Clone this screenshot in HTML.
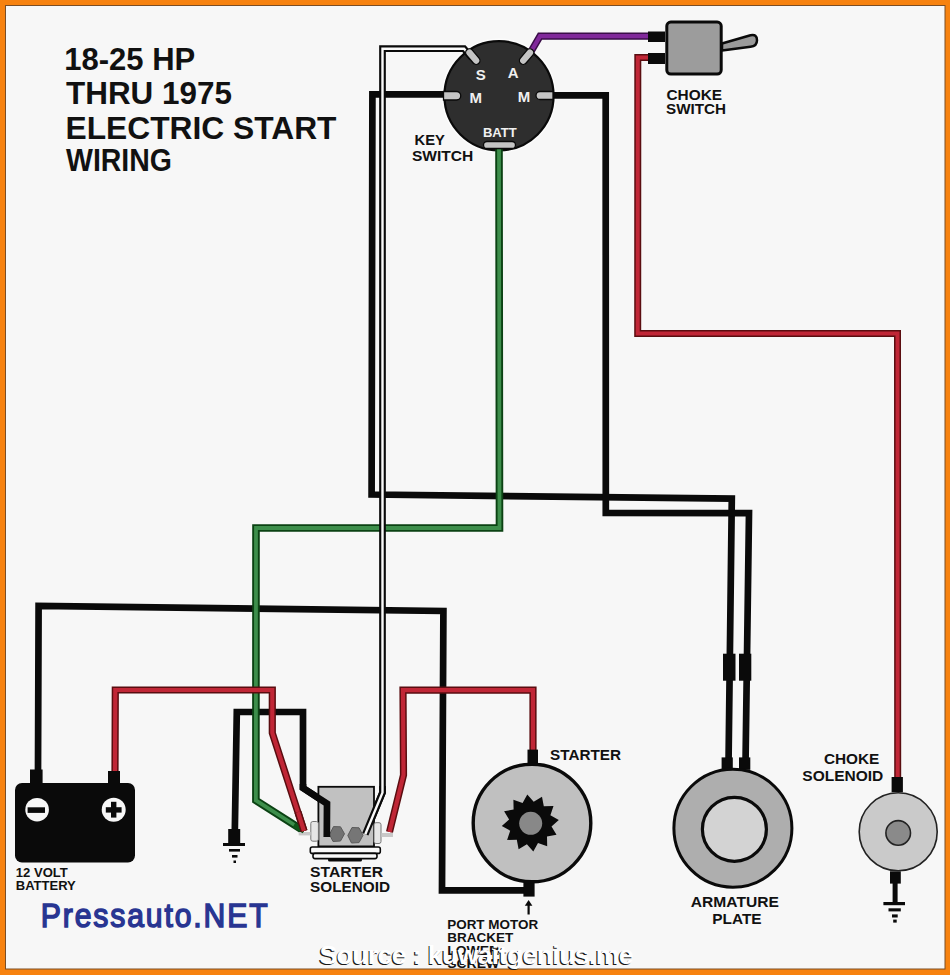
<!DOCTYPE html>
<html><head><meta charset="utf-8">
<style>
html,body{margin:0;padding:0;width:950px;height:975px;overflow:hidden;background:#f7f7f7}
svg{display:block}
text{font-family:"Liberation Sans",sans-serif;font-weight:bold}
</style></head><body>
<svg width="950" height="975" viewBox="0 0 950 975">
<rect x="0" y="0" width="950" height="975" fill="#f7820f"/>
<rect x="5.5" y="5.5" width="939.5" height="963.5" fill="#f7f7f7" stroke="#7a4e26" stroke-width="1"/>

<!-- Title -->
<g fill="#111" font-size="30.5">
<text x="64.3" y="70.4" textLength="131" lengthAdjust="spacingAndGlyphs">18-25 HP</text>
<text x="66" y="104.3" textLength="166" lengthAdjust="spacingAndGlyphs">THRU 1975</text>
<text x="65.5" y="139.2" textLength="271" lengthAdjust="spacingAndGlyphs">ELECTRIC START</text>
<text x="66" y="170.8" textLength="106" lengthAdjust="spacingAndGlyphs">WIRING</text>
</g>

<!-- Key switch body -->
<circle cx="499" cy="95.8" r="56.4" fill="none" stroke="#fcfcfc" stroke-width="1.6"/>
<circle cx="499" cy="95.8" r="54.6" fill="#2e2e2e" stroke="#0a0a0a" stroke-width="2.2"/>

<!-- wires: black -->
<g fill="none" stroke="#0a0a0a" stroke-width="6.7" stroke-linejoin="miter" stroke-linecap="butt">
<polyline points="38,772 38.6,606 443.4,611 442,890.3 524,890.3"/>
<polyline points="234.8,832 236.8,712 303,712 303,788 327,803.6 326.8,836"/>
<polyline points="450,94.4 372.4,94.4 371.6,494.5 731.8,498.6 728.6,758"/>
<polyline points="547,95.3 605.7,95.3 605.8,513 749,513.2 745.6,758"/>
</g>
<!-- green -->
<g fill="none" stroke-linejoin="miter">
<polyline points="499,146 499.5,528 256,528 255.9,800.4 304,831" stroke="#0b4213" stroke-width="7.6"/>
<polyline points="499,146 499.5,528 256,528 255.9,800.4 304,831" stroke="#3d8e4b" stroke-width="3.8"/>
</g>
<!-- red wires -->
<g fill="none" stroke-linejoin="miter">
<polyline points="115,772 115.3,690 272.3,690 272.3,733 304,831" stroke="#5a0d10" stroke-width="7.2"/>
<polyline points="115,772 115.3,690 272.3,690 272.3,733 304,831" stroke="#c02636" stroke-width="4.2"/>
<polyline points="389.5,832 403.5,775 403,690.2 533,690.2 533,752" stroke="#5a0d10" stroke-width="7.2"/>
<polyline points="389.5,832 403.5,775 403,690.2 533,690.2 533,752" stroke="#c02636" stroke-width="4.2"/>
<polyline points="649,57.5 637.8,57.5 637.7,333.4 897.5,333.4 897.7,778" stroke="#5a0d10" stroke-width="7"/>
<polyline points="649,57.5 637.8,57.5 637.7,333.4 897.5,333.4 897.7,778" stroke="#c02636" stroke-width="4"/>
</g>
<!-- purple -->
<g fill="none" stroke-linejoin="miter">
<polyline points="529,55 540,36.2 649,36.2" stroke="#3a0d48" stroke-width="7.2"/>
<polyline points="529,55 540,36.2 649,36.2" stroke="#80289a" stroke-width="4.2"/>
</g>
<!-- white wire -->
<g fill="none" stroke-linejoin="miter">
<polyline points="472,58 464,48.7 382.5,48.7 382.5,792.6 365.3,834.3" stroke="#0a0a0a" stroke-width="6.7"/>
<polyline points="472,58 464,48.7 382.5,48.7 382.5,792.6 365.3,834.3" stroke="#fafafa" stroke-width="2.4"/>
</g>

<!-- Key switch terminals & labels -->
<g fill="#c4c4c4" stroke="#0a0a0a" stroke-width="1.3">
<path d="M443.5,91.5 L456.5,91.5 A4.25,4.25 0 0 1 456.5,100 L443.5,100 Z"/>
<path d="M553,91.5 L540,91.5 A4,4 0 0 0 540,99.5 L553,99.5 Z"/>
<rect x="483.5" y="141.5" width="32" height="7" rx="3.5"/>
<rect x="-9" y="-3.8" width="18" height="7.6" rx="3.8" transform="translate(472.8,56.6) rotate(50)"/>
<rect x="-9" y="-3.8" width="18" height="7.6" rx="3.8" transform="translate(526.6,56.6) rotate(-50)"/>
</g>
<g fill="#f0f0f0" font-size="15">
<text x="475.8" y="79.5">S</text>
<text x="507.8" y="78.1">A</text>
<text x="469.5" y="102.5">M</text>
<text x="517.7" y="101.7">M</text>
<text x="482.9" y="136.7" textLength="33.8" lengthAdjust="spacingAndGlyphs" font-size="13">BATT</text>
</g>
<g fill="#111" font-size="15">
<text x="414.5" y="145.3" textLength="30.3" lengthAdjust="spacingAndGlyphs">KEY</text>
<text x="412" y="161" textLength="61.3" lengthAdjust="spacingAndGlyphs">SWITCH</text>
</g>

<!-- Choke switch -->
<rect x="648" y="31.5" width="17" height="10.5" fill="#0a0a0a"/>
<rect x="648" y="53" width="17" height="11" fill="#0a0a0a"/>
<path d="M722,43.5 L750.5,35.3 Q757,33.8 757,40.3 Q757,46.3 750.5,46.8 L722,50.5 Z" fill="#9a9a9a" stroke="#0a0a0a" stroke-width="2.5" stroke-linejoin="round"/>
<rect x="666.8" y="22.1" width="54.4" height="52" rx="4" fill="#9c9c9c" stroke="#0a0a0a" stroke-width="3"/>
<g fill="#111" font-size="15">
<text x="666.5" y="100" textLength="55.6" lengthAdjust="spacingAndGlyphs">CHOKE</text>
<text x="666" y="114" textLength="60" lengthAdjust="spacingAndGlyphs">SWITCH</text>
</g>

<!-- Battery -->
<rect x="30" y="769.5" width="12.6" height="14" fill="#0a0a0a"/>
<rect x="108" y="771" width="12" height="13" fill="#0a0a0a"/>
<rect x="15" y="783" width="120" height="79.5" rx="7" fill="#0a0a0a"/>
<circle cx="37.1" cy="809.7" r="11.8" fill="#f7f7f7"/>
<rect x="27.6" y="807.3" width="17.4" height="5.6" fill="#0a0a0a"/>
<circle cx="113.7" cy="809.7" r="12" fill="#f7f7f7"/>
<rect x="105.8" y="807.2" width="15.8" height="5.4" fill="#0a0a0a"/>
<rect x="111" y="801.8" width="5.4" height="15.8" fill="#0a0a0a"/>
<g fill="#111" font-size="12.5">
<text x="15.8" y="876.8" textLength="52" lengthAdjust="spacingAndGlyphs">12 VOLT</text>
<text x="15.8" y="890.3" textLength="60" lengthAdjust="spacingAndGlyphs">BATTERY</text>
</g>

<!-- Ground (solenoid) -->
<rect x="228.2" y="829" width="12" height="14" fill="#0a0a0a"/>
<rect x="223" y="843" width="22" height="3" fill="#0a0a0a"/>
<rect x="229" y="849" width="11" height="2.6" fill="#0a0a0a"/>
<rect x="232" y="855" width="5.5" height="2.6" fill="#0a0a0a"/>
<rect x="233.5" y="860.5" width="2.5" height="2.5" fill="#0a0a0a"/>

<!-- Starter solenoid -->
<rect x="318.4" y="786.8" width="55.6" height="59.6" fill="#c1c1c1" stroke="#0a0a0a" stroke-width="1.8"/>
<rect x="310.8" y="821.5" width="7.6" height="19.7" rx="2" fill="#e6e6e6" stroke="#777" stroke-width="1"/>
<rect x="374" y="822.7" width="7" height="20.8" rx="2" fill="#e6e6e6" stroke="#777" stroke-width="1"/>
<rect x="298.7" y="832" width="12" height="3.4" fill="#c8c8c8"/>
<rect x="381.5" y="833" width="11.5" height="4" fill="#c8c8c8"/>
<rect x="310.3" y="847" width="70" height="6.4" rx="2" fill="#fafafa" stroke="#0a0a0a" stroke-width="1.6"/>
<rect x="313" y="853.4" width="64" height="5.2" rx="2" fill="#fafafa" stroke="#0a0a0a" stroke-width="1.6"/>
<rect x="328" y="858" width="34" height="3.5" rx="1.5" fill="#0a0a0a"/>
<polygon points="344.5,833.8 340.5,841 333,841.5 329.5,834.5 333.5,826.6 340.5,826.8" fill="#727272" stroke="#5a5a5a" stroke-width="1"/>
<polygon points="363,835.3 359,842.6 351.5,843 347.8,835.5 352,827.5 359,827.8" fill="#767676" stroke="#5a5a5a" stroke-width="1"/>
<!-- wires over solenoid -->
<polyline points="303,784 303,788 327,803.6 326.8,837" fill="none" stroke="#0a0a0a" stroke-width="6.7" stroke-linejoin="miter"/>
<polyline points="382.5,786 382.5,792.6 365.3,834.3" fill="none" stroke="#0a0a0a" stroke-width="6.7" stroke-linejoin="miter"/>
<polyline points="382.5,786 382.5,792.6 365.3,834.3" fill="none" stroke="#fafafa" stroke-width="2.4" stroke-linejoin="miter"/>
<polyline points="294,825 304,831" fill="none" stroke="#0f5518" stroke-width="5"/>
<polyline points="298,812 304,831" fill="none" stroke="#5a0d10" stroke-width="7.2"/>
<polyline points="298,812 304,831" fill="none" stroke="#c02636" stroke-width="4.2"/>
<g fill="#111" font-size="15">
<text x="310" y="876.8" textLength="73" lengthAdjust="spacingAndGlyphs">STARTER</text>
<text x="310" y="892" textLength="80" lengthAdjust="spacingAndGlyphs">SOLENOID</text>
</g>

<!-- Starter motor -->
<rect x="527.5" y="749.6" width="10.5" height="14" fill="#0a0a0a"/>
<rect x="523.4" y="882.4" width="11.2" height="14.2" fill="#0a0a0a"/>
<circle cx="532" cy="823" r="58.8" fill="#c0c0c0" stroke="#0a0a0a" stroke-width="3.4"/>
<polygon fill="#0a0a0a" points="527.3,794.5 533.7,801.8 542.0,796.8 543.8,806.3 553.5,806.1 550.4,815.3 558.8,820.0 551.5,826.4 556.5,834.7 547.0,836.5 547.2,846.2 538.0,843.1 533.3,851.5 526.9,844.2 518.6,849.2 516.8,839.7 507.1,839.9 510.2,830.7 501.8,826.0 509.1,819.6 504.1,811.3 513.6,809.5 513.4,799.8 522.6,802.9"/>
<circle cx="530.7" cy="823.3" r="11.5" fill="#888"/>
<path d="M528.6,914.5 L528.6,904" fill="none" stroke="#0a0a0a" stroke-width="2.2"/>
<path d="M524.8,905.8 L528.6,900 L532.4,905.8 Z" fill="#0a0a0a"/>
<g fill="#111" font-size="15">
<text x="550" y="760.2" textLength="71" lengthAdjust="spacingAndGlyphs">STARTER</text>
</g>
<g fill="#111" font-size="13">
<text x="447.2" y="928.7" textLength="91" lengthAdjust="spacingAndGlyphs">PORT MOTOR</text>
<text x="447.2" y="941.7" textLength="66" lengthAdjust="spacingAndGlyphs">BRACKET</text>
<text x="447.2" y="954.7" textLength="52" lengthAdjust="spacingAndGlyphs">LOWER</text>
<text x="447.2" y="967.7" textLength="52" lengthAdjust="spacingAndGlyphs">SCREW</text>
</g>

<!-- Armature plate -->
<rect x="723" y="653.7" width="12.5" height="27" fill="#0a0a0a"/>
<rect x="739" y="653.7" width="12.3" height="27" fill="#0a0a0a"/>
<rect x="721.6" y="757.4" width="11.2" height="12.4" fill="#0a0a0a"/>
<rect x="739" y="757.4" width="11.3" height="12.4" fill="#0a0a0a"/>
<circle cx="732.9" cy="828.2" r="59" fill="#aeaeae" stroke="#0a0a0a" stroke-width="3"/>
<circle cx="734.4" cy="829.3" r="32" fill="#d3d3d3" stroke="#0a0a0a" stroke-width="3.2"/>
<g fill="#111" font-size="15">
<text x="690.8" y="907.2" textLength="88" lengthAdjust="spacingAndGlyphs">ARMATURE</text>
<text x="712.3" y="923.7" textLength="49.3" lengthAdjust="spacingAndGlyphs">PLATE</text>
</g>

<!-- Choke solenoid -->
<rect x="891.6" y="777" width="11.3" height="15.3" fill="#0a0a0a"/>
<rect x="890" y="871.3" width="10.8" height="12.3" fill="#0a0a0a"/>
<rect x="892.6" y="880" width="5" height="22" fill="#0a0a0a"/>
<rect x="883.4" y="902" width="21.6" height="3.2" fill="#0a0a0a"/>
<rect x="888.5" y="908.3" width="12.3" height="3.1" fill="#0a0a0a"/>
<rect x="892" y="914.4" width="5.7" height="3.1" fill="#0a0a0a"/>
<rect x="893.2" y="919.6" width="3.5" height="3" fill="#0a0a0a"/>
<circle cx="898.2" cy="831.8" r="39" fill="#cacaca" stroke="#222" stroke-width="1.6"/>
<circle cx="898.2" cy="832.9" r="12.3" fill="#8a8a8a" stroke="#222" stroke-width="1.6"/>
<g fill="#111" font-size="15">
<text x="823.9" y="763.6" textLength="55.4" lengthAdjust="spacingAndGlyphs">CHOKE</text>
<text x="802.3" y="781" textLength="81" lengthAdjust="spacingAndGlyphs">SOLENOID</text>
</g>

<!-- Pressauto -->
<g transform="translate(40.8,926.8) scale(0.9,1)"><text x="0" y="0" fill="#283592" font-size="33.5" textLength="252" lengthAdjust="spacing" style="font-weight:normal" stroke="#283592" stroke-width="1.5">Pressauto.NET</text></g>

<!-- watermark -->
<g transform="translate(319.5,964)">
<text x="-1.2" y="1.3" fill="#1a1a1a" font-size="26.5" textLength="314" lengthAdjust="spacing">Source : kuwaitgenius.me</text>
<text x="0" y="0" fill="#ffffff" font-size="26.5" textLength="314" lengthAdjust="spacing">Source : kuwaitgenius.me</text>
</g>
</svg>
</body></html>
